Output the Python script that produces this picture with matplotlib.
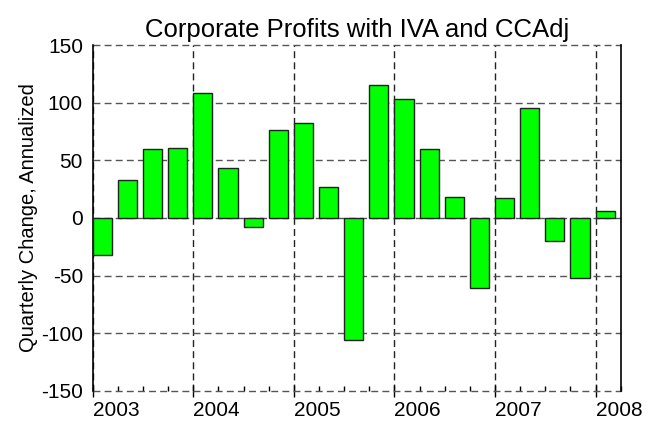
import matplotlib
matplotlib.use("Agg")
import matplotlib.pyplot as plt
from matplotlib.ticker import MultipleLocator

plt.rcParams['font.family'] = ['Liberation Sans', 'DejaVu Sans']
plt.rcParams['axes.unicode_minus'] = False

# quarterly change, annualized, 2003Q1 .. 2008Q1
start_year = 2003
values = [-32, 33, 60, 61, 108, 43, -8, 76, 82, 27, -106,
          115, 103, 60, 18, -61, 17, 95, -20, -52, 6]
years = [2003, 2004, 2005, 2006, 2007, 2008]
yticks = [-150, -100, -50, 0, 50, 100, 150]

quarters = [start_year + 0.25 * i for i in range(len(values))]

fig = plt.figure(figsize=(6.58, 4.21), dpi=100)
ax = fig.add_axes([0.1409, 0.0713, 0.8024, 0.8218])

ax.bar(quarters, values, width=0.19, align='edge', color='#00ff00',
       edgecolor='#222222', linewidth=1.0, zorder=3)

ax.set_xlim(2003, 2008.25)
ax.set_ylim(-150, 150)
ax.set_yticks(yticks)
ax.set_xticks(years)
ax.set_xticklabels([str(y) for y in years], ha='left')
ax.xaxis.set_minor_locator(MultipleLocator(0.25))

ax.grid(True, axis='y', linestyle=(0, (5, 3)), color='#555555',
        linewidth=1.0, zorder=1)
ax.grid(True, axis='x', linestyle=(0, (5, 3)), color='#222222',
        linewidth=1.0, zorder=1)
# keep the dashed lines at the top and bottom edges fully visible
for line in ax.get_ygridlines():
    line.set_clip_on(False)

ax.spines['top'].set_visible(False)
ax.spines['bottom'].set_visible(False)
ax.spines['left'].set_linewidth(1.2)
ax.spines['right'].set_linewidth(1.2)

ax.tick_params(axis='y', length=0, pad=7, labelsize=15)
ax.tick_params(axis='x', which='major', direction='inout', length=8,
               width=1, pad=3, labelsize=15)
ax.tick_params(axis='x', which='minor', direction='in', length=3.5, width=1)

ax.set_title('Corporate Profits with IVA and CCAdj', fontsize=18.5, pad=6)
ax.set_ylabel('Quarterly Change, Annualized', fontsize=14.5, labelpad=2)

fig.savefig('out.png', dpi=100)
